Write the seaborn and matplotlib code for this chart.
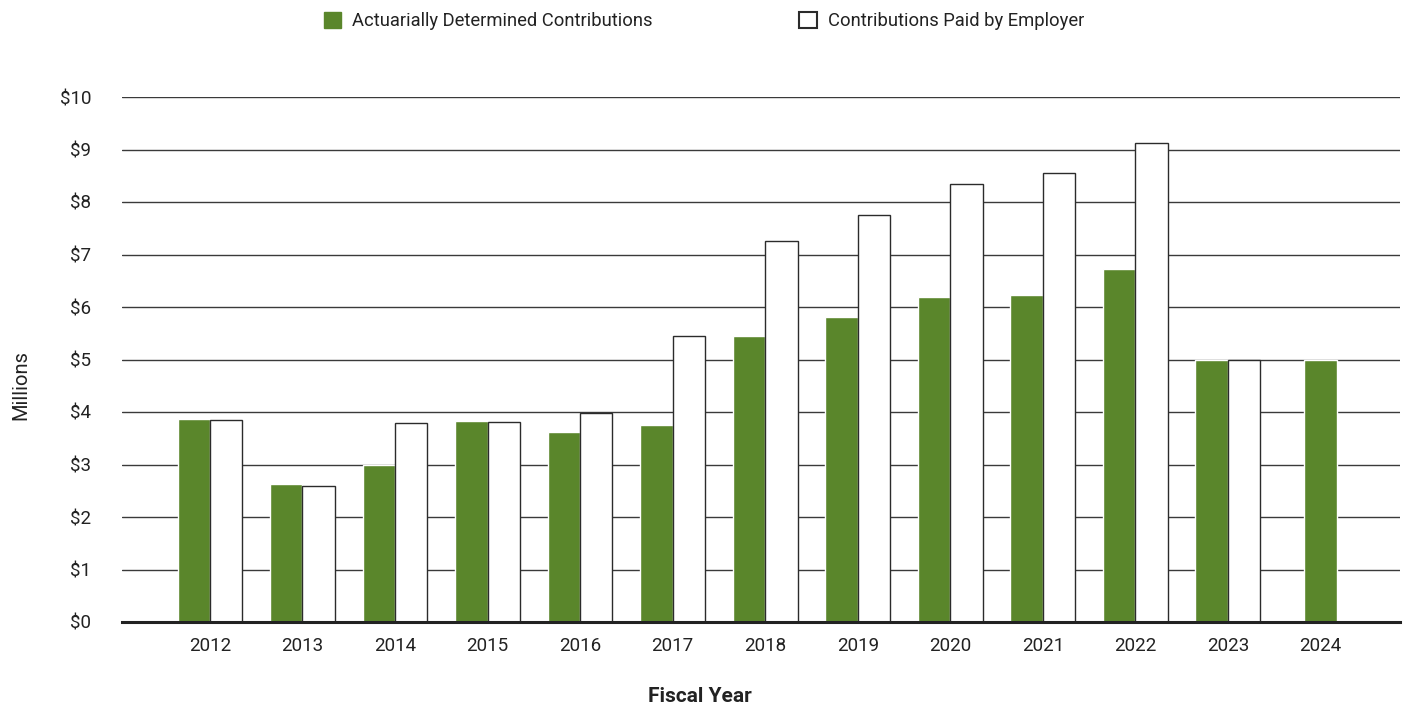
import numpy as np
import pandas as pd
import matplotlib
matplotlib.use("Agg")
import matplotlib.pyplot as plt
import seaborn as sns
from matplotlib.patches import Patch

years = ["2012", "2013", "2014", "2015", "2016", "2017", "2018",
         "2019", "2020", "2021", "2022", "2023", "2024"]
determined = [3.87, 2.63, 2.99, 3.83, 3.62, 3.75, 5.45,
              5.81, 6.19, 6.23, 6.72, 4.99, 4.99]
paid = [3.85, 2.59, 3.79, 3.81, 3.98, 5.45, 7.26,
        7.75, 8.34, 8.55, 9.12, 4.99, np.nan]

SERIES = ["Actuarially Determined Contributions", "Contributions Paid by Employer"]
GREEN = "#5A862B"
EDGE = "#2b2b2b"

sns.set_theme(style="white")
plt.rcParams["font.family"] = ["Roboto", "DejaVu Sans"]

# 2012-2023 have both series, 2024 only the determined one
both = pd.DataFrame({
    "year": years[:-1] * 2,
    "series": [SERIES[0]] * 12 + [SERIES[1]] * 12,
    "value": determined[:-1] + paid[:-1],
})
last = pd.DataFrame({"year": years[-1:], "value": determined[-1:]})

fig = plt.figure(figsize=(14.06, 7.13), dpi=100)
ax = fig.add_axes([122 / 1406, 1 - 622 / 713, 1278 / 1406, 525 / 713])

ax.set_axisbelow(True)
for v in range(1, 11):
    ax.axhline(v, color="#3a3a3a", lw=1.0, zorder=0)

sns.barplot(data=both, x="year", y="value", hue="series", order=years,
            hue_order=SERIES, palette=[GREEN, "white"], width=0.7,
            saturation=1, legend=False, ax=ax, zorder=2)
for p in ax.patches:
    if p.get_facecolor()[0] > 0.9:
        p.set_edgecolor(EDGE)
        p.set_linewidth(1.0)
sns.barplot(data=last, x="year", y="value", order=years, color=GREEN,
            width=0.35, saturation=1, ax=ax, zorder=2)

ax.set_xlim(-0.95, 12.86)
ax.set_ylim(0, 10)
ax.set_yticks(range(0, 11))
ax.set_yticklabels([f"${v}" for v in range(0, 11)])
for s in ["left", "right", "top"]:
    ax.spines[s].set_visible(False)
ax.spines["bottom"].set_color("#222222")
ax.spines["bottom"].set_linewidth(2.2)
ax.spines["bottom"].set_zorder(3)
ax.tick_params(axis="y", length=0, pad=22, labelsize=13.5, labelcolor="#222222")
ax.tick_params(axis="x", length=0, pad=11, labelsize=13.5, labelcolor="#222222")
ax.set_xlabel("")
ax.set_ylabel("")

fig.text(0.015, 1 - 385 / 713, "Millions", rotation=90, ha="center",
         va="center", fontsize=14.5, color="#222222")
fig.text(700 / 1406, 1 - 697 / 713, "Fiscal Year", ha="center", va="center",
         fontsize=15, fontweight="bold", color="#222222")

handles = [Patch(facecolor=GREEN, edgecolor=GREEN),
           Patch(facecolor="white", edgecolor=EDGE, linewidth=1.5)]
fig.legend(handles, SERIES, loc="center", bbox_to_anchor=(704 / 1406, 1 - 21 / 713),
           ncol=2, frameon=False, fontsize=13.2, columnspacing=8.0,
           handlelength=0.95, handleheight=0.95, handletextpad=0.6,
           labelcolor="#222222")

fig.savefig("out.png", dpi=100)
